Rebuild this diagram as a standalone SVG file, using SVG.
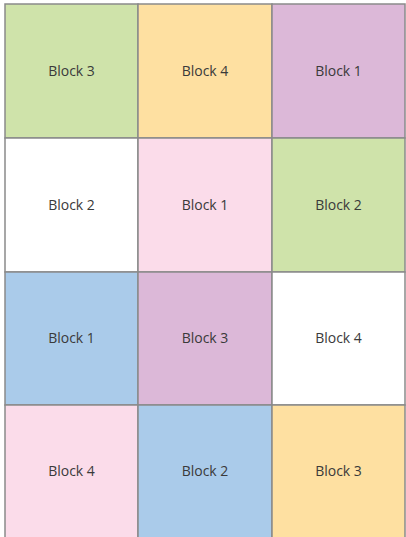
<svg xmlns="http://www.w3.org/2000/svg" width="406" height="537" viewBox="0 0 406 537">
<style>
.c{stroke:#8a8a8a;stroke-width:1.5}
.g{fill:#cfe3aa}.o{fill:#fee0a1}.p{fill:#dcb8d8}.k{fill:#fbdcea}.b{fill:#aacbea}.w{fill:#ffffff}
text{font-family:"Open Sans","Noto Sans",sans-serif;font-size:14px;fill:#3a3a3a;text-anchor:middle}
</style>
<rect width="406" height="537" fill="#ffffff"/>
<g id="r1c1"><rect class="c g" x="5" y="4" width="133" height="134"/><text x="71.5" y="76">Block 3</text></g>
<g id="r1c2"><rect class="c o" x="138" y="4" width="134" height="134"/><text x="205" y="76">Block 4</text></g>
<g id="r1c3"><rect class="c p" x="272" y="4" width="133" height="134"/><text x="338.5" y="76">Block 1</text></g>
<g id="r2c1"><rect class="c w" x="5" y="138" width="133" height="134"/><text x="71.5" y="210">Block 2</text></g>
<g id="r2c2"><rect class="c k" x="138" y="138" width="134" height="134"/><text x="205" y="210">Block 1</text></g>
<g id="r2c3"><rect class="c g" x="272" y="138" width="133" height="134"/><text x="338.5" y="210">Block 2</text></g>
<g id="r3c1"><rect class="c b" x="5" y="272" width="133" height="133"/><text x="71.5" y="343">Block 1</text></g>
<g id="r3c2"><rect class="c p" x="138" y="272" width="134" height="133"/><text x="205" y="343">Block 3</text></g>
<g id="r3c3"><rect class="c w" x="272" y="272" width="133" height="133"/><text x="338.5" y="343">Block 4</text></g>
<g id="r4c1"><rect class="c k" x="5" y="405" width="133" height="140"/><text x="71.5" y="476">Block 4</text></g>
<g id="r4c2"><rect class="c b" x="138" y="405" width="134" height="140"/><text x="205" y="476">Block 2</text></g>
<g id="r4c3"><rect class="c o" x="272" y="405" width="133" height="140"/><text x="338.5" y="476">Block 3</text></g>
<g id="connectors"></g>
</svg>
